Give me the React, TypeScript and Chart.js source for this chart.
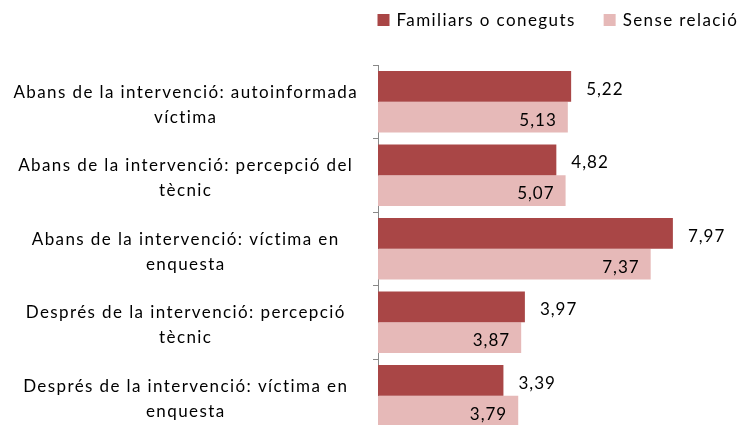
import React, { useEffect, useRef } from 'react';
import { Chart, registerables } from 'chart.js';

Chart.register(...registerables);

const categories: string[][] = [
  ['Abans de la intervenció: autoinformada', 'víctima'],
  ['Abans de la intervenció: percepció del', 'tècnic'],
  ['Abans de la intervenció: víctima en', 'enquesta'],
  ['Després de la intervenció: percepció', 'tècnic'],
  ['Després de la intervenció: víctima en', 'enquesta'],
];

const seriesNames: string[] = ['Familiars o coneguts', 'Sense relació'];
const familiars: number[] = [5.22, 4.82, 7.97, 3.97, 3.39];
const senseRelacio: number[] = [5.13, 5.07, 7.37, 3.87, 3.79];

const DARK = '#A94646';
const LIGHT = '#E6B9B8';
const FONT = 'Lato';
const SPACING = '1.4px';

const fmt = (v: number) => v.toFixed(2).replace('.', ',');

const spacingPlugin = {
  id: 'spacing',
  beforeUpdate(chart: any) {
    chart.ctx.letterSpacing = SPACING;
  },
  beforeLayout(chart: any) {
    chart.ctx.letterSpacing = SPACING;
  },
  beforeDraw(chart: any) {
    chart.ctx.letterSpacing = SPACING;
  },
};

const valueLabels = {
  id: 'valueLabels',
  afterDatasetsDraw(chart: any) {
    const ctx = chart.ctx;
    ctx.save();
    ctx.font = `17px ${FONT}`;
    ctx.letterSpacing = '1px';
    ctx.fillStyle = '#000';
    ctx.textBaseline = 'middle';
    chart.data.datasets.forEach((ds: any, di: number) => {
      const meta = chart.getDatasetMeta(di);
      meta.data.forEach((el: any, i: number) => {
        const txt = fmt(ds.data[i]);
        if (di === 0) {
          ctx.textAlign = 'left';
          ctx.fillText(txt, el.x + 15, el.y + 3);
        } else {
          ctx.textAlign = 'right';
          ctx.fillText(txt, el.x - 11, el.y + 3);
        }
      });
    });
    ctx.restore();
  },
};

const topLegend = {
  id: 'topLegend',
  afterDraw(chart: any) {
    const ctx = chart.ctx;
    ctx.save();
    ctx.font = `17px ${FONT}`;
    ctx.letterSpacing = SPACING;
    ctx.textBaseline = 'middle';
    ctx.textAlign = 'left';
    let x = chart.chartArea.left - 0.5;
    const y = 20;
    chart.data.datasets.forEach((ds: any) => {
      ctx.fillStyle = ds.backgroundColor;
      ctx.fillRect(x, y - 6, 12, 12);
      ctx.fillStyle = '#000';
      ctx.fillText(ds.label, x + 19, y + 1);
      x += 19 + ctx.measureText(ds.label).width + 28;
    });
    ctx.restore();
  },
};

export default function App() {
  const ref = useRef<HTMLCanvasElement>(null);
  useEffect(() => {
    if (!ref.current) return;
    const chart = new Chart(ref.current, {
      type: 'bar',
      data: {
        labels: categories,
        datasets: [
          {
            label: seriesNames[0],
            data: familiars,
            backgroundColor: DARK,
            categoryPercentage: 0.84,
            barPercentage: 1,
          },
          {
            label: seriesNames[1],
            data: senseRelacio,
            backgroundColor: LIGHT,
            categoryPercentage: 0.84,
            barPercentage: 1,
          },
        ],
      },
      options: {
        indexAxis: 'y',
        responsive: false,
        animation: false,
        layout: { padding: { top: 65, left: 0, right: 12, bottom: 7.5 } },
        plugins: {
          legend: { display: false },
          tooltip: { enabled: false },
          title: { display: false },
        },
        scales: {
          x: { display: false, min: 0, max: 10 },
          y: {
            type: 'category',
            afterFit: (s: any) => {
              s.width = 378;
              s.paddingTop = 0;
              s.paddingBottom = 0;
            },
            grid: {
              display: true,
              drawOnChartArea: false,
              drawTicks: true,
              tickLength: 5,
              color: '#888888',
              offset: true,
            },
            border: { display: true, color: '#888888' },
            ticks: {
              font: { family: FONT, size: 17, lineHeight: 1.47 },
              color: '#000',
              crossAlign: 'center',
              padding: 15,
              labelOffset: 3,
            },
          },
        },
      },
      plugins: [spacingPlugin, valueLabels, topLegend],
    });
    return () => chart.destroy();
  }, []);

  return (
    <div
      style={{
        position: 'fixed',
        left: 0,
        top: 0,
        width: 738,
        height: 425,
        overflow: 'hidden',
        background: '#fff',
      }}
    >
      <canvas ref={ref} width={760} height={440} />
    </div>
  );
}
